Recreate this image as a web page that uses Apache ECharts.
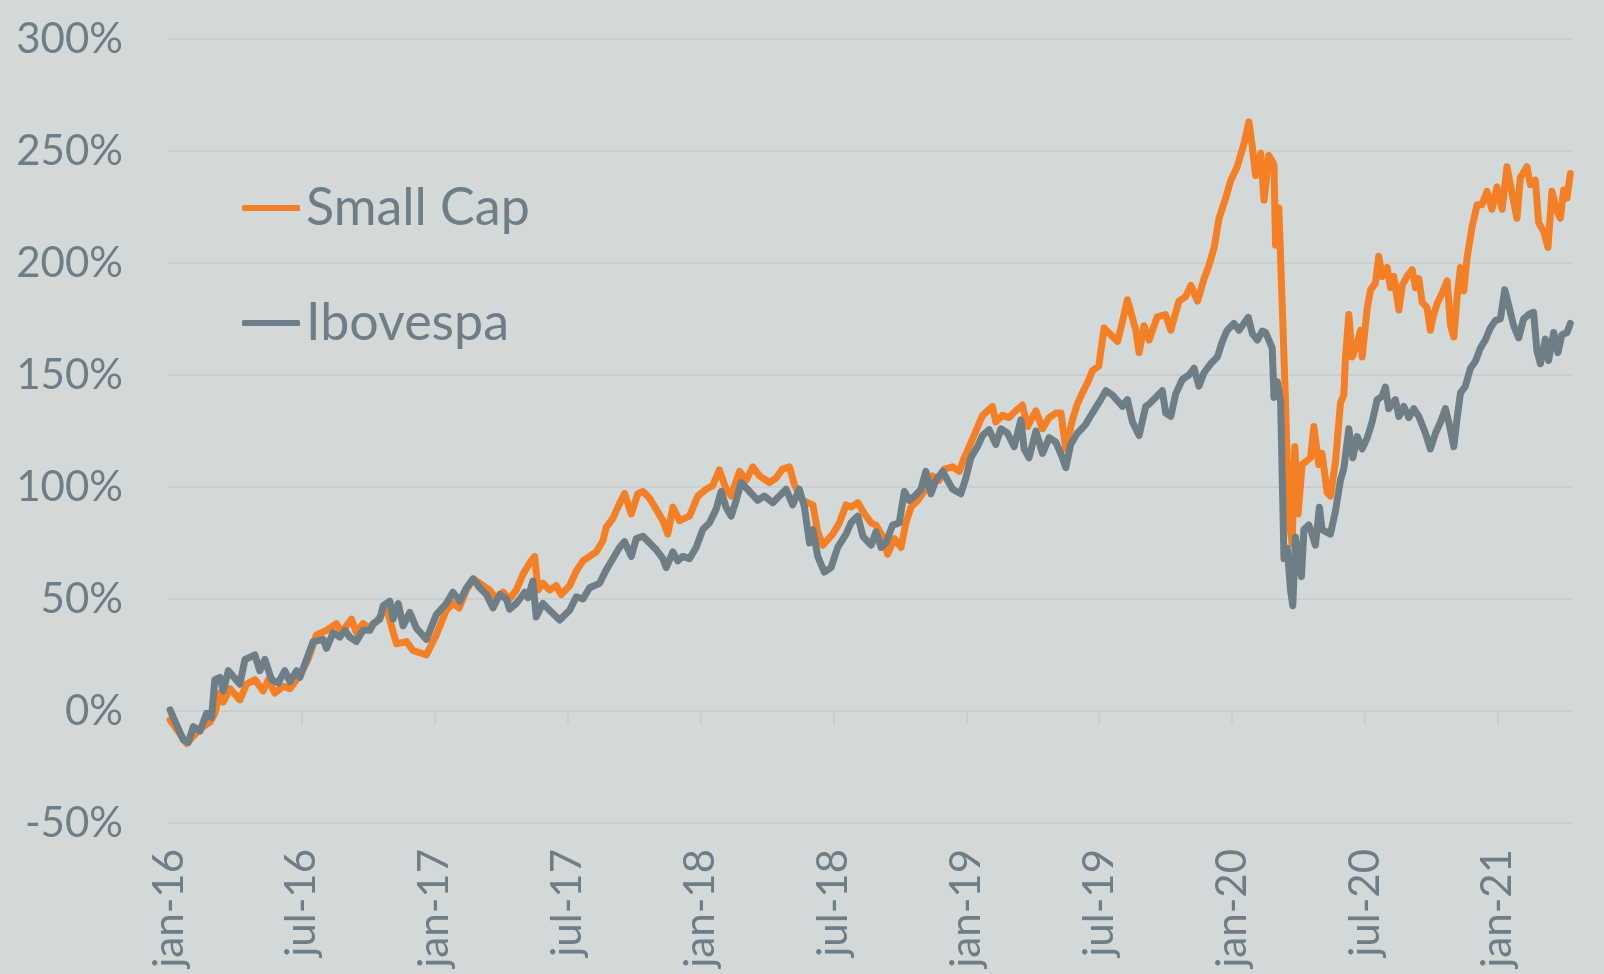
<!DOCTYPE html>
<html>
<head>
<meta charset="utf-8">
<script src="https://cdn.jsdelivr.net/npm/echarts@6/dist/echarts.min.js"></script>
<style>
* { margin: 0; padding: 0; }
html, body { background: #d3d9d9; }
#chart { width: 1604px; height: 974px; }
</style>
</head>
<body>
<div id="chart"></div>
<script>
// x = months since jan-16, y = cumulative return (%)
const tickLabels = ['jan-16', 'jul-16', 'jan-17', 'jul-17', 'jan-18', 'jul-18', 'jan-19', 'jul-19', 'jan-20', 'jul-20', 'jan-21']
const tickMonths = [0, 6, 12, 18, 24, 30, 36, 42, 48, 54, 60]

const smallCap = [
  [0.05, -4], [0.8, -14.5], [1.4, -8], [1.85, -5], [2.07, -1], [2.3, 8], [2.45, 4], [2.75, 10], [3.2, 5], [3.5, 12],
  [3.88, 14], [4.25, 9], [4.48, 14], [4.78, 8], [5.16, 11], [5.46, 10], [5.91, 16], [6.28, 23], [6.66, 34], [7.11, 36],
  [7.56, 39], [7.79, 35], [8.24, 41], [8.46, 35], [8.76, 39], [9.07, 37], [9.37, 40], [9.82, 46], [10.27, 30], [10.72, 31],
  [11.02, 27], [11.62, 25], [12.07, 34], [12.52, 45], [12.82, 48], [13.1, 46], [13.43, 54], [13.73, 59], [14.03, 57], [14.48, 54],
  [14.78, 50], [15.08, 53], [15.38, 50], [15.68, 54], [15.98, 61], [16.28, 66], [16.51, 69], [16.66, 54], [16.88, 57], [17.18, 54],
  [17.48, 56], [17.71, 52], [18.09, 56], [18.39, 62.5], [18.69, 67], [18.99, 69], [19.29, 71], [19.59, 76], [19.74, 82], [20.04, 86],
  [20.34, 92.6], [20.57, 97], [20.87, 88], [21.17, 97], [21.4, 98], [21.7, 95], [22.0, 90], [22.3, 85], [22.52, 79], [22.75, 91],
  [23.05, 85], [23.5, 87], [23.88, 96], [24.25, 99], [24.55, 100.6], [24.85, 107.6], [25.15, 99], [25.38, 96], [25.76, 107], [26.06, 103],
  [26.36, 109], [26.66, 105], [27.11, 102], [27.41, 104], [27.7, 108], [28.01, 109], [28.24, 101], [28.61, 94], [29.07, 92], [29.29, 80],
  [29.52, 74], [29.97, 79], [30.27, 84], [30.57, 92], [30.79, 91], [31.1, 93], [31.4, 88], [31.7, 84], [31.92, 83], [32.22, 78],
  [32.45, 70], [32.75, 77], [33.05, 73], [33.27, 84], [33.5, 91], [33.8, 94], [34.02, 97], [34.25, 101], [34.47, 105], [34.77, 103],
  [35.0, 108], [35.38, 109], [35.68, 107], [35.9, 113], [36.13, 118], [36.43, 125], [36.73, 132], [36.96, 134], [37.18, 136], [37.33, 129],
  [37.63, 132], [37.93, 131], [38.23, 134], [38.53, 136.6], [38.76, 127], [39.14, 134], [39.44, 126], [39.74, 131], [40.04, 133], [40.27, 133],
  [40.49, 117], [40.79, 130], [41.01, 137], [41.24, 142], [41.54, 148], [41.69, 152], [41.98, 154], [42.22, 171], [42.52, 168], [42.83, 165],
  [43.05, 174], [43.27, 183.6], [43.43, 178], [43.65, 170], [43.8, 160], [44.02, 172], [44.25, 165.6], [44.62, 176], [44.99, 177], [45.23, 170],
  [45.6, 183], [45.9, 185], [46.14, 190], [46.44, 183], [46.73, 193], [46.96, 199], [47.19, 207], [47.41, 220], [47.71, 229], [47.93, 236.6],
  [48.23, 243], [48.53, 253], [48.76, 263], [48.91, 252], [49.06, 239], [49.29, 249], [49.44, 228], [49.66, 248], [49.89, 244], [49.96, 208],
  [50.11, 224.6], [50.26, 181.6], [50.41, 138], [50.56, 86], [50.71, 74.7], [50.83, 118], [50.98, 88], [51.16, 110], [51.54, 113], [51.69, 127],
  [51.91, 110], [52.06, 115], [52.29, 97.5], [52.44, 96], [52.67, 111.6], [52.89, 137.5], [53.04, 141], [53.12, 158], [53.27, 177], [53.42, 158],
  [53.65, 164], [53.8, 170], [53.87, 158], [54.1, 180], [54.25, 188], [54.47, 191], [54.62, 203], [54.77, 194], [55.0, 198], [55.15, 189],
  [55.3, 194], [55.53, 179], [55.68, 190], [55.9, 194], [56.13, 197], [56.28, 189], [56.43, 193], [56.58, 182.5], [56.8, 180], [56.95, 170],
  [57.1, 177], [57.26, 182], [57.48, 186.5], [57.71, 192], [57.86, 172], [58.01, 167], [58.16, 185], [58.31, 198], [58.46, 187.5], [58.61, 202.5],
  [58.83, 216], [59.06, 226], [59.28, 226], [59.51, 232], [59.73, 224], [59.96, 234], [60.19, 224], [60.41, 243], [60.64, 231], [60.86, 220],
  [61.01, 238], [61.31, 243], [61.47, 235], [61.69, 237], [61.84, 218], [62.07, 214], [62.26, 207], [62.44, 232], [62.67, 223], [62.82, 220],
  [62.97, 232.6], [63.12, 229], [63.27, 240]
]

const ibovespa = [
  [0.05, 0.5], [0.2, -3], [0.65, -13], [0.87, -14], [1.1, -7], [1.4, -9], [1.7, -1], [1.92, -3], [2.07, 14], [2.3, 15],
  [2.45, 9], [2.68, 18], [3.2, 12], [3.43, 23], [3.88, 25], [4.1, 18], [4.33, 23], [4.63, 14], [4.93, 12.5], [5.23, 18],
  [5.46, 13], [5.76, 18], [5.91, 15], [6.21, 23], [6.51, 31], [6.96, 32], [7.11, 28], [7.41, 35], [7.71, 33], [7.94, 36],
  [8.16, 33], [8.46, 31], [8.76, 36], [9.07, 36], [9.22, 39], [9.52, 41], [9.67, 47], [9.97, 49], [10.12, 41], [10.35, 48],
  [10.57, 38], [10.87, 44], [11.17, 37], [11.62, 32], [12.07, 43], [12.52, 48], [12.82, 53], [13.13, 49], [13.43, 55], [13.73, 59],
  [14.03, 55], [14.33, 52], [14.63, 46], [14.93, 52], [15.23, 50], [15.38, 45.5], [15.68, 48], [16.06, 53], [16.21, 50.6], [16.43, 58],
  [16.58, 42], [16.88, 48], [17.18, 45], [17.64, 40.6], [18.09, 45], [18.39, 51], [18.69, 50], [18.99, 55], [19.44, 57], [19.74, 63],
  [20.04, 68], [20.34, 73], [20.57, 75.6], [20.87, 69], [21.1, 77], [21.4, 78], [21.7, 75], [22.0, 72], [22.3, 68], [22.45, 64],
  [22.75, 71], [22.97, 67], [23.2, 69], [23.5, 68], [23.8, 73], [24.1, 81], [24.4, 84], [24.7, 90], [24.93, 98], [25.15, 91],
  [25.38, 87], [25.61, 94], [25.83, 102], [26.21, 98], [26.58, 94], [26.88, 96], [27.26, 93], [27.56, 96], [27.86, 99], [28.16, 92],
  [28.46, 99], [28.69, 91], [28.92, 75], [29.07, 81], [29.29, 69], [29.59, 62], [29.89, 64], [30.19, 73], [30.57, 79], [30.79, 84],
  [31.1, 87], [31.33, 78], [31.7, 74], [31.92, 80], [32.15, 73], [32.37, 75], [32.67, 83], [32.97, 84], [33.2, 98], [33.42, 94],
  [33.72, 96.5], [33.95, 99], [34.17, 107], [34.4, 97], [34.62, 103], [34.93, 107], [35.15, 103], [35.38, 99], [35.75, 97], [35.98, 104],
  [36.2, 113], [36.5, 118], [36.73, 123], [37.03, 125.6], [37.33, 119], [37.56, 126], [37.86, 124], [38.16, 118], [38.46, 130], [38.61, 117],
  [38.83, 113], [39.14, 125], [39.44, 115], [39.74, 122], [40.04, 120], [40.34, 113], [40.49, 108.6], [40.71, 119], [41.01, 124], [41.39, 128],
  [41.69, 133], [42.07, 139], [42.3, 143], [42.6, 141], [43.05, 136], [43.27, 139], [43.5, 129], [43.8, 123], [44.1, 136], [44.25, 137],
  [44.85, 143], [45.0, 133], [45.23, 131.5], [45.45, 141.5], [45.75, 148], [46.05, 150], [46.28, 153], [46.5, 145], [46.73, 151], [47.03, 155],
  [47.33, 158], [47.56, 165], [47.78, 170], [48.08, 173], [48.31, 170], [48.53, 173], [48.73, 175.7], [48.91, 168.5], [49.14, 165.6], [49.36, 169.6],
  [49.51, 169], [49.66, 165.6], [49.81, 162], [49.89, 140], [50.04, 147], [50.19, 138], [50.34, 68], [50.49, 72.7], [50.64, 53.6], [50.74, 47],
  [50.86, 77.6], [51.01, 66], [51.13, 60], [51.24, 81], [51.46, 83], [51.61, 79], [51.76, 74], [51.94, 91], [52.06, 81], [52.44, 79],
  [52.67, 89.5], [52.89, 103], [53.04, 108], [53.27, 126], [53.45, 113], [53.65, 122.5], [53.87, 117], [54.1, 122], [54.32, 129], [54.55, 139],
  [54.77, 140.5], [54.92, 144.6], [55.07, 135], [55.37, 139], [55.53, 131.5], [55.75, 136], [55.98, 131], [56.2, 135], [56.43, 131.5], [56.73, 124],
  [56.95, 117], [57.18, 124], [57.41, 129], [57.63, 135], [57.78, 129], [58.01, 118], [58.16, 131], [58.31, 142], [58.53, 145], [58.76, 153],
  [58.98, 156], [59.21, 162], [59.43, 165.6], [59.66, 171], [59.89, 174.4], [60.11, 175], [60.31, 188], [60.49, 181], [60.71, 172], [60.94, 166.6],
  [61.16, 175], [61.39, 177], [61.61, 178], [61.76, 161], [61.92, 155], [62.14, 166], [62.29, 156.5], [62.52, 169], [62.71, 160], [62.89, 168],
  [63.12, 169], [63.27, 173]
]

const chart = echarts.init(document.getElementById('chart'), null, { renderer: 'canvas' })

const textColor = '#6e7e87'
const gridColor = '#cbcecf'
const fontFamily = 'Lato'

const option = {
  backgroundColor: '#d3d9d9',
  animation: false,
  textStyle: { fontFamily: fontFamily },
  grid: {
    left: 169,
    right: 33,
    top: 39,
    bottom: 151,
    containLabel: false,
    outerBoundsMode: 'none'
  },
  legend: {
    orient: 'vertical',
    left: 242,
    top: 178,
    padding: 0,
    icon: 'roundRect',
    itemWidth: 58,
    itemHeight: 6,
    itemGap: 55,
    selectedMode: false,
    textStyle: {
      fontFamily: fontFamily,
      fontSize: 52,
      lineHeight: 60,
      color: textColor,
      padding: [0, 0, 0, 1]
    },
    data: ['Small Cap', 'Ibovespa']
  },
  xAxis: [
    {
      // axis line + ticks sitting on the 0% line
      type: 'value',
      min: 0,
      max: 63.3,
      interval: 6,
      axisLine: { show: true, onZero: true, lineStyle: { color: gridColor, width: 2 } },
      axisTick: { show: true, length: 14, customValues: tickMonths, lineStyle: { color: gridColor, width: 2 } },
      axisLabel: { show: false },
      splitLine: { show: false }
    },
    {
      // labels along the bottom
      type: 'value',
      position: 'bottom',
      min: 0,
      max: 63.3,
      interval: 6,
      axisLine: { show: false, onZero: false },
      axisTick: { show: false },
      splitLine: { show: false },
      axisLabel: {
        rotate: 90,
        margin: 26,
        customValues: tickMonths,
        fontFamily: fontFamily,
        fontSize: 42,
        color: textColor,
        formatter: (v) => tickLabels[tickMonths.indexOf(v)] || ''
      }
    }
  ],
  yAxis: {
    type: 'value',
    min: -50,
    max: 300,
    interval: 50,
    axisLine: { show: false },
    axisTick: { show: false },
    axisLabel: {
      margin: 46,
      fontFamily: fontFamily,
      fontSize: 42,
      color: textColor,
      formatter: '{value}%'
    },
    splitLine: { lineStyle: { color: gridColor, width: 2 } }
  },
  series: [
    {
      name: 'Small Cap',
      type: 'line',
      xAxisIndex: 0,
      data: smallCap,
      symbol: 'none',
      color: '#f47f24',
      lineStyle: { width: 7, color: '#f47f24', join: 'round', cap: 'round' }
    },
    {
      name: 'Ibovespa',
      type: 'line',
      xAxisIndex: 0,
      data: ibovespa,
      symbol: 'none',
      color: '#6e7e87',
      lineStyle: { width: 7, color: '#6e7e87', join: 'round', cap: 'round' }
    }
  ]
}

chart.setOption(option)
</script>
</body>
</html>
